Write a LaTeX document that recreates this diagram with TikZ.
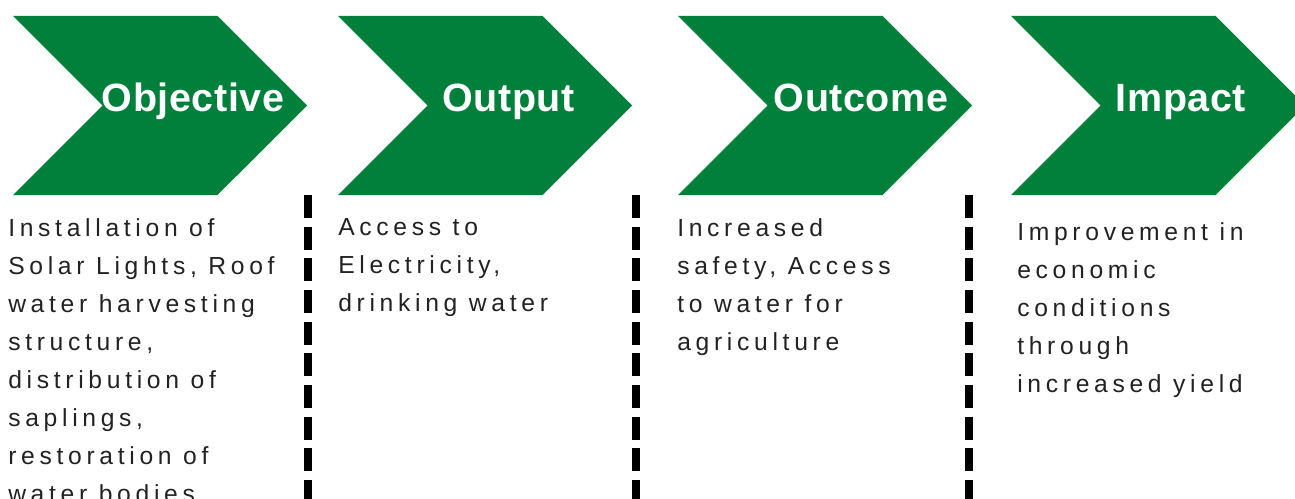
\documentclass[tikz,border=0pt]{standalone}
\usepackage{fontspec}
\usepackage{xcolor}
\usepackage{tikz}
\usetikzlibrary{shapes.symbols}
\newfontfamily\bodyfont[LetterSpace=19]{Liberation Sans}
\newfontfamily\headfont[LetterSpace=1.5]{Liberation Sans}
\definecolor{chevgreen}{RGB}{0,128,58}
\definecolor{bodygray}{RGB}{34,34,34}

\begin{document}
\begin{tikzpicture}[x=0.75pt,y=-0.75pt]
      \tikzstyle{chevron}=[signal, signal from=west, signal to=east, fill=chevgreen, draw=none, minimum width=220.5pt, minimum height=134.25pt, inner sep=0pt]
      \tikzstyle{stage_text}=[text=white, font=\headfont\bfseries\fontsize{29.6}{34}\selectfont, anchor=base, inner sep=0pt]
      \tikzstyle{body_text}=[text=bodygray, font=\bodyfont\fontsize{18.5}{28.5}\selectfont, align=left, anchor=north west, inner sep=0pt]
      \tikzstyle{divider}=[line width=6pt, dash pattern=on 17.25pt off 6.5pt]

      \useasboundingbox (0,0) rectangle (1295,499);

      \begin{scope}
        \node [chevron] (objective) at (160,105.5) {};
        \node [stage_text] (objective_title) at (193,112) {Objective};
        \node [body_text] (objective_text) at (8,218) {Installation of\\Solar Lights, Roof\\water harvesting\\structure,\\distribution of\\saplings,\\restoration of\\water bodies};
        \coordinate (div1_top) at (308,195);
        \coordinate (div1_bot) at (308,499);
        \draw [divider] (div1_top) -- (div1_bot);
      \end{scope}

      \begin{scope}
        \node [chevron] (output) at (485,105.5) {};
        \node [stage_text] (output_title) at (508.5,112) {Output};
        \node [body_text] (output_text) at (338,218) {Access to\\Electricity,\\drinking water};
        \coordinate (div2_top) at (635.5,195);
        \coordinate (div2_bot) at (635.5,499);
        \draw [divider] (div2_top) -- (div2_bot);
      \end{scope}

      \begin{scope}
        \node [chevron] (outcome) at (825,105.5) {};
        \node [stage_text] (outcome_title) at (861,112) {Outcome};
        \node [body_text] (outcome_text) at (677,218) {Increased\\safety, Access\\to water for\\agriculture};
        \coordinate (div3_top) at (969,195);
        \coordinate (div3_bot) at (969,499);
        \draw [divider] (div3_top) -- (div3_bot);
      \end{scope}

      \begin{scope}
        \node [chevron] (impact) at (1158,105.5) {};
        \node [stage_text] (impact_title) at (1181,112) {Impact};
        \node [body_text] (impact_text) at (1017,222) {Improvement in\\economic\\conditions\\through\\increased yield};
      \end{scope}
    \end{tikzpicture}
\end{document}
